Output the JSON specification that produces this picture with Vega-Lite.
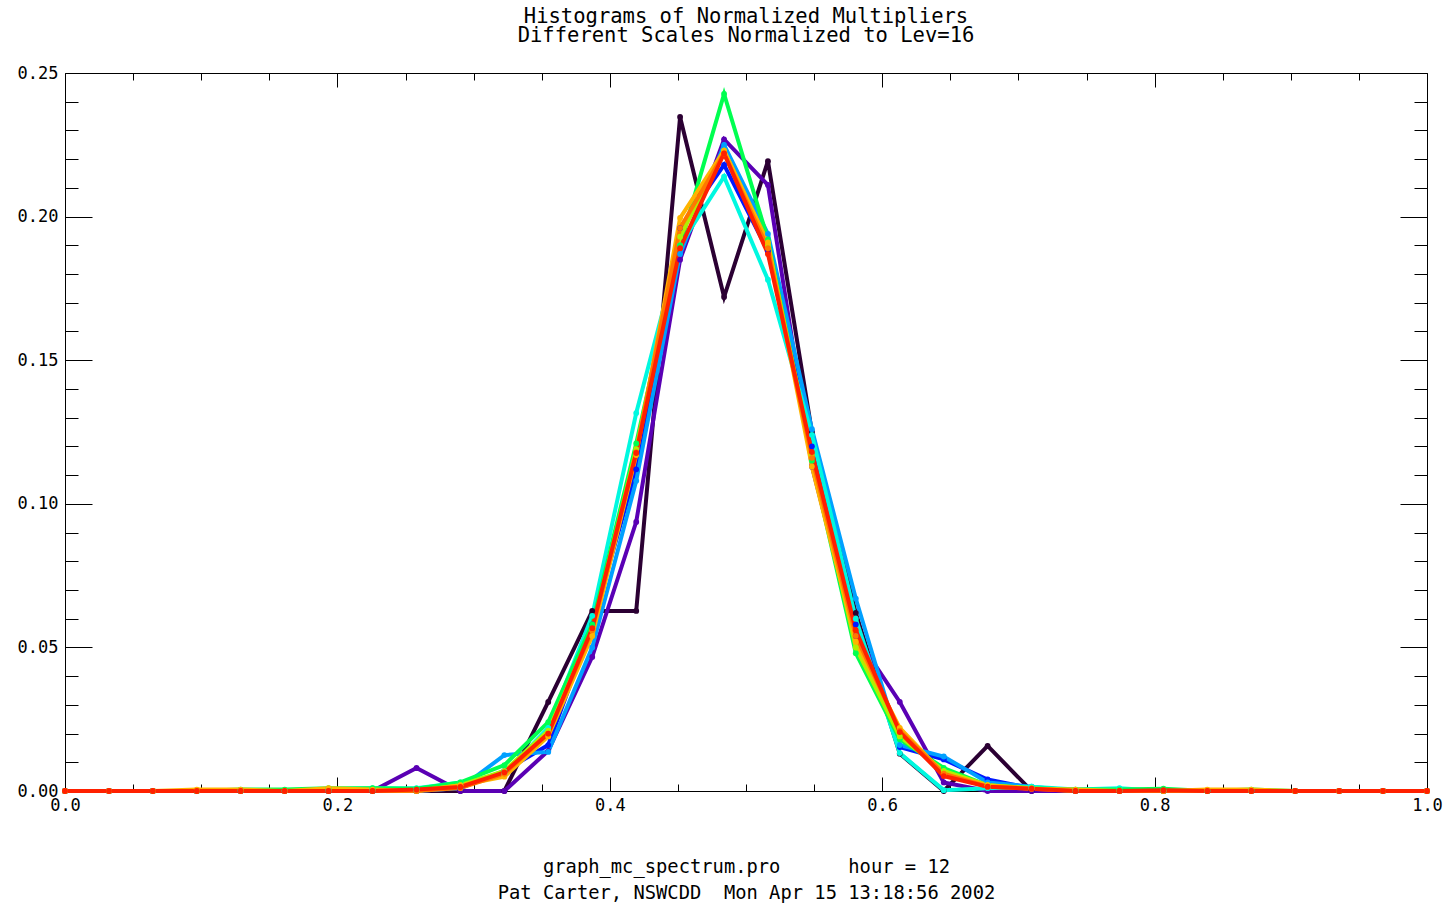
{
  "$schema": "https://vega.github.io/schema/vega-lite/v6.json",
  "width": 1362,
  "height": 718,
  "autosize": "none",
  "padding": {"left": 65, "top": 73, "right": 21, "bottom": 115},
  "background": "white",
  "title": {
    "text": ["Histograms of Normalized Multipliers", "Different Scales Normalized to Lev=16"],
    "font": "DejaVu Sans Mono",
    "fontSize": 20.5,
    "fontWeight": "normal",
    "lineHeight": 19,
    "color": "black",
    "anchor": "middle",
    "offset": 18
  },
  "config": {
    "view": {"stroke": "black", "strokeWidth": 1},
    "axis": {"grid": false, "domain": false, "tickColor": "black", "tickWidth": 1, "labelColor": "black", "labelFont": "DejaVu Sans Mono", "labelFontSize": 17, "labelOverlap": false, "labelFlush": false, "titleFont": "DejaVu Sans Mono", "titleFontWeight": "normal", "titleColor": "black"}
  },
  "data": {"values": [
    {"x": 0, "s1": 0, "s2": 0, "s3": 0, "s4": 0, "s5": 0, "s6": 0, "s7": 0, "s8": 0, "s9": 0, "s10": 0},
    {"x": 0.0323, "s1": 0, "s2": 0, "s3": 0, "s4": 0, "s5": 0, "s6": 0, "s7": 0, "s8": 0, "s9": 0, "s10": 0},
    {"x": 0.0645, "s1": 0, "s2": 0, "s3": 0, "s4": 0, "s5": 0, "s6": 0, "s7": 0, "s8": 0, "s9": 0, "s10": 0},
    {"x": 0.0968, "s1": 0, "s2": 0, "s3": 0, "s4": 0, "s5": 0, "s6": 0, "s7": 0, "s8": 0.0005, "s9": 0, "s10": 0},
    {"x": 0.129, "s1": 0, "s2": 0, "s3": 0, "s4": 0, "s5": 0, "s6": 0.0005, "s7": 0, "s8": 0.0005, "s9": 0, "s10": 0},
    {"x": 0.1613, "s1": 0, "s2": 0, "s3": 0, "s4": 0, "s5": 0, "s6": 0.0005, "s7": 0, "s8": 0, "s9": 0, "s10": 0},
    {"x": 0.1935, "s1": 0, "s2": 0, "s3": 0, "s4": 0, "s5": 0.0005, "s6": 0.001, "s7": 0, "s8": 0.001, "s9": 0, "s10": 0},
    {"x": 0.2258, "s1": 0, "s2": 0, "s3": 0, "s4": 0, "s5": 0.001, "s6": 0.001, "s7": 0, "s8": 0.0005, "s9": 0, "s10": 0},
    {"x": 0.2581, "s1": 0, "s2": 0.008, "s3": 0, "s4": 0, "s5": 0.001, "s6": 0.0008, "s7": 0, "s8": 0, "s9": 0, "s10": 0.0005},
    {"x": 0.2903, "s1": 0, "s2": 0, "s3": 0.001, "s4": 0.001, "s5": 0.003, "s6": 0.003, "s7": 0.002, "s8": 0.002, "s9": 0.001, "s10": 0.0014},
    {"x": 0.3226, "s1": 0, "s2": 0, "s3": 0.007, "s4": 0.0125, "s5": 0.006, "s6": 0.009, "s7": 0.007, "s8": 0.005, "s9": 0.006, "s10": 0.0065},
    {"x": 0.3548, "s1": 0.031, "s2": 0.014, "s3": 0.016, "s4": 0.0136, "s5": 0.022, "s6": 0.024, "s7": 0.021, "s8": 0.019, "s9": 0.02, "s10": 0.02},
    {"x": 0.3871, "s1": 0.0627, "s2": 0.0467, "s3": 0.058, "s4": 0.05, "s5": 0.061, "s6": 0.058, "s7": 0.056, "s8": 0.054, "s9": 0.056, "s10": 0.0567},
    {"x": 0.4194, "s1": 0.0627, "s2": 0.0937, "s3": 0.112, "s4": 0.108, "s5": 0.1316, "s6": 0.121, "s7": 0.119, "s8": 0.117, "s9": 0.118, "s10": 0.1177},
    {"x": 0.4516, "s1": 0.2347, "s2": 0.185, "s3": 0.196, "s4": 0.187, "s5": 0.19, "s6": 0.19, "s7": 0.193, "s8": 0.1995, "s9": 0.196, "s10": 0.189},
    {"x": 0.4839, "s1": 0.172, "s2": 0.2269, "s3": 0.218, "s4": 0.225, "s5": 0.2139, "s6": 0.2427, "s7": 0.223, "s8": 0.223, "s9": 0.222, "s10": 0.222},
    {"x": 0.5161, "s1": 0.2193, "s2": 0.211, "s3": 0.188, "s4": 0.194, "s5": 0.178, "s6": 0.192, "s7": 0.19, "s8": 0.191, "s9": 0.189, "s10": 0.187},
    {"x": 0.5484, "s1": 0.125, "s2": 0.113, "s3": 0.12, "s4": 0.126, "s5": 0.124, "s6": 0.115, "s7": 0.117, "s8": 0.113, "s9": 0.116, "s10": 0.118},
    {"x": 0.5806, "s1": 0.062, "s2": 0.054, "s3": 0.058, "s4": 0.067, "s5": 0.06, "s6": 0.048, "s7": 0.05, "s8": 0.052, "s9": 0.054, "s10": 0.056},
    {"x": 0.6129, "s1": 0.013, "s2": 0.031, "s3": 0.0153, "s4": 0.016, "s5": 0.0132, "s6": 0.018, "s7": 0.019, "s8": 0.022, "s9": 0.021, "s10": 0.0205},
    {"x": 0.6452, "s1": 0, "s2": 0.003, "s3": 0.011, "s4": 0.012, "s5": 0.0003, "s6": 0.008, "s7": 0.007, "s8": 0.006, "s9": 0.006, "s10": 0.0052},
    {"x": 0.6774, "s1": 0.0157, "s2": 0, "s3": 0.004, "s4": 0.003, "s5": 0.001, "s6": 0.002, "s7": 0.002, "s8": 0.002, "s9": 0.0015, "s10": 0.0015},
    {"x": 0.7097, "s1": 0, "s2": 0, "s3": 0.001, "s4": 0.0015, "s5": 0.0015, "s6": 0.001, "s7": 0.001, "s8": 0.0008, "s9": 0.0008, "s10": 0.0008},
    {"x": 0.7419, "s1": 0, "s2": 0, "s3": 0, "s4": 0, "s5": 0.0005, "s6": 0.0005, "s7": 0, "s8": 0.0005, "s9": 0, "s10": 0},
    {"x": 0.7742, "s1": 0, "s2": 0, "s3": 0, "s4": 0, "s5": 0.001, "s6": 0.0005, "s7": 0, "s8": 0, "s9": 0, "s10": 0},
    {"x": 0.8065, "s1": 0, "s2": 0, "s3": 0, "s4": 0, "s5": 0, "s6": 0.0008, "s7": 0, "s8": 0, "s9": 0, "s10": 0.0003},
    {"x": 0.8387, "s1": 0, "s2": 0, "s3": 0, "s4": 0, "s5": 0, "s6": 0, "s7": 0, "s8": 0.0005, "s9": 0, "s10": 0},
    {"x": 0.871, "s1": 0, "s2": 0, "s3": 0, "s4": 0, "s5": 0, "s6": 0.0005, "s7": 0, "s8": 0.0005, "s9": 0, "s10": 0},
    {"x": 0.9032, "s1": 0, "s2": 0, "s3": 0, "s4": 0, "s5": 0, "s6": 0, "s7": 0, "s8": 0, "s9": 0, "s10": 0},
    {"x": 0.9355, "s1": 0, "s2": 0, "s3": 0, "s4": 0, "s5": 0, "s6": 0, "s7": 0, "s8": 0, "s9": 0, "s10": 0},
    {"x": 0.9677, "s1": 0, "s2": 0, "s3": 0, "s4": 0, "s5": 0, "s6": 0, "s7": 0, "s8": 0, "s9": 0, "s10": 0},
    {"x": 1.0, "s1": 0, "s2": 0, "s3": 0, "s4": 0, "s5": 0, "s6": 0, "s7": 0, "s8": 0, "s9": 0, "s10": 0}
  ]},
  "transform": [{"fold": ["s1", "s2", "s3", "s4", "s5", "s6", "s7", "s8", "s9", "s10"], "as": ["series", "value"]}],
  "resolve": {"axis": {"x": "independent", "y": "independent"}},
  "layer": [
    {
      "mark": {"type": "line", "strokeWidth": 4, "point": {"filled": true, "size": 34}},
      "encoding": {
        "x": {"field": "x", "type": "quantitative", "scale": {"domain": [0, 1], "nice": false},
          "axis": {"orient": "bottom", "values": [0, 0.2, 0.4, 0.6, 0.8, 1.0], "format": ".1f", "tickSize": -14, "labelPadding": 20,
            "title": ["graph_mc_spectrum.pro\u00a0\u00a0\u00a0\u00a0\u00a0\u00a0hour = 12", "Pat Carter, NSWCDD\u00a0\u00a0Mon Apr 15 13:18:56 2002"],
            "titleFontSize": 18.8, "titleLineHeight": 26, "titlePadding": 44}},
        "y": {"field": "value", "type": "quantitative", "scale": {"domain": [0, 0.25], "nice": false, "zero": true},
          "axis": {"orient": "left", "values": [0, 0.05, 0.1, 0.15, 0.2, 0.25], "format": ".2f", "tickSize": -27, "labelPadding": 34, "title": null}},
        "color": {"field": "series", "type": "nominal", "legend": null,
          "scale": {"domain": ["s1", "s2", "s3", "s4", "s5", "s6", "s7", "s8", "s9", "s10"],
            "range": ["#2b0033", "#5a00b4", "#0018ff", "#00a0ff", "#00f8e0", "#00ff50", "#b0f000", "#ffb400", "#ff7800", "#ff2000"]}},
        "detail": {"field": "series"}
      }
    },
    {
      "mark": {"type": "point", "opacity": 0},
      "encoding": {
        "x": {"field": "x", "type": "quantitative", "scale": {"domain": [0, 1], "nice": false},
          "axis": {"orient": "bottom", "values": [0.05, 0.1, 0.15, 0.25, 0.3, 0.35, 0.45, 0.5, 0.55, 0.65, 0.7, 0.75, 0.85, 0.9, 0.95], "labels": false, "tickSize": -7, "title": null}},
        "y": {"field": "value", "type": "quantitative", "scale": {"domain": [0, 0.25], "nice": false},
          "axis": {"orient": "left", "values": [0.01, 0.02, 0.03, 0.04, 0.06, 0.07, 0.08, 0.09, 0.11, 0.12, 0.13, 0.14, 0.16, 0.17, 0.18, 0.19, 0.21, 0.22, 0.23, 0.24], "labels": false, "tickSize": -13, "title": null}}
      }
    },
    {
      "mark": {"type": "point", "opacity": 0},
      "encoding": {
        "x": {"field": "x", "type": "quantitative", "scale": {"domain": [0, 1], "nice": false},
          "axis": {"orient": "top", "values": [0, 0.2, 0.4, 0.6, 0.8, 1.0], "labels": false, "tickSize": -14, "title": null}},
        "y": {"field": "value", "type": "quantitative", "scale": {"domain": [0, 0.25], "nice": false},
          "axis": {"orient": "right", "values": [0, 0.05, 0.1, 0.15, 0.2, 0.25], "labels": false, "tickSize": -27, "title": null}}
      }
    },
    {
      "mark": {"type": "point", "opacity": 0},
      "encoding": {
        "x": {"field": "x", "type": "quantitative", "scale": {"domain": [0, 1], "nice": false},
          "axis": {"orient": "top", "values": [0.05, 0.1, 0.15, 0.25, 0.3, 0.35, 0.45, 0.5, 0.55, 0.65, 0.7, 0.75, 0.85, 0.9, 0.95], "labels": false, "tickSize": -7, "title": null}},
        "y": {"field": "value", "type": "quantitative", "scale": {"domain": [0, 0.25], "nice": false},
          "axis": {"orient": "right", "values": [0.01, 0.02, 0.03, 0.04, 0.06, 0.07, 0.08, 0.09, 0.11, 0.12, 0.13, 0.14, 0.16, 0.17, 0.18, 0.19, 0.21, 0.22, 0.23, 0.24], "labels": false, "tickSize": -13, "title": null}}
      }
    }
  ]
}
